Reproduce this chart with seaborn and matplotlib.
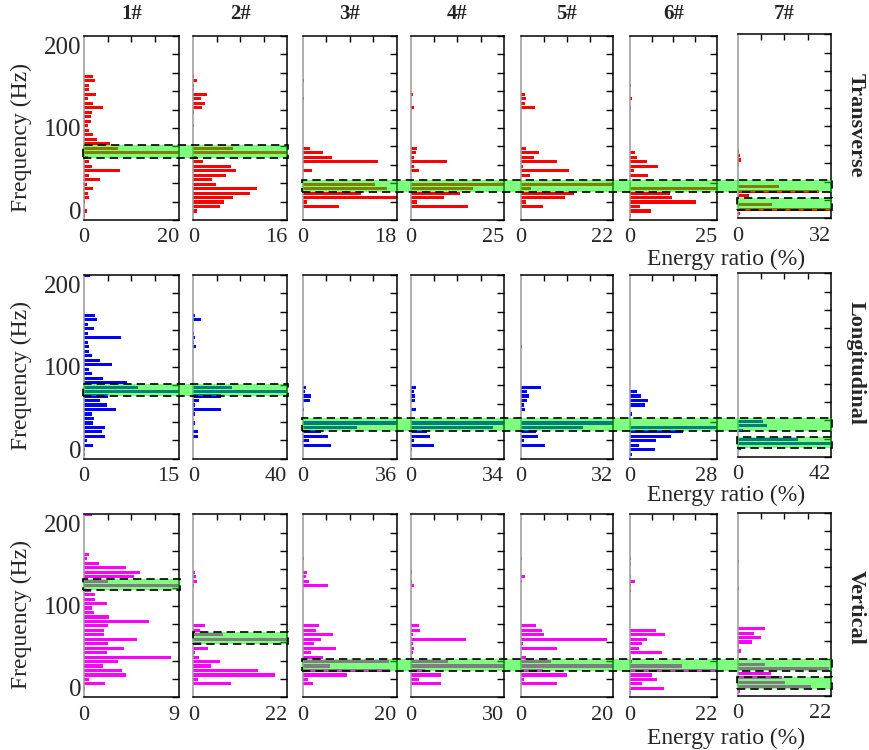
import numpy as np
import pandas as pd
import matplotlib
matplotlib.use("Agg")
import matplotlib.pyplot as plt
import seaborn as sns
from matplotlib.patches import Rectangle
from matplotlib.transforms import blended_transform_factory

# ---------------- data ----------------
# frequency bins (Hz)
FREQ = [4.88, 9.76, 14.63, 19.51, 24.39, 29.27, 34.15, 39.02, 43.90, 48.78,
        53.66, 58.54, 63.41, 68.29, 73.17, 78.05, 82.93, 87.80, 92.68, 97.56,
        102.44, 107.32, 112.20, 117.07, 121.95, 126.83, 131.71, 136.59, 141.46, 146.34,
        151.22, 156.10, 160.98, 165.85, 170.73, 175.61, 180.49, 185.37, 190.24, 195.12,
        200.00]

columns = ["1#", "2#", "3#", "4#", "5#", "6#", "7#"]
directions = ["Transverse", "Longitudinal", "Vertical"]

# Transverse energy ratio (%)
trans_1 = [0.2,0.7,0.1,0.2,1.1,0.8,2.0,0.6,3.3,1.0, 7.5,1.6,1.1,0.8,20,7.1,5.4,2.8,1.8,1.1,
           0.9,1.5,1.4,1.6,4.1,1.8,0.9,2.5,1.1,1.0, 2.3,1.8,0,0,0,0,0,0,0,0, 0.3]
trans_2 = [0,0.7,4.5,5.3,6.8,9.7,10.8,3.9,3.2,5.6, 7.2,6.5,1.7,0.6,16,6.8,0,0,0,0,
           0.1,0,0,0.1,1.4,2.0,1.3,2.3,0.1,0.2, 0.6,0.2,0,0,0,0,0,0,0,0, 0]
trans_3 = [0,0.1,7.0,0.9,18,11.1,16.2,13.8,0,0, 1.7,0.1,14.5,5.7,3.8,1.4,0,0,0,0,
           0,0,0,0,0,0,0.2,0,0,0, 0.2,0,0,0,0,0,0,0,0,0, 0]
trans_4 = [0.1,0,15.4,1.8,8.8,13.2,16.6,25,0,0.2, 2.1,1.0,9.6,0.9,1.3,1.6,0,0,0,0,
           0,0,0,0,1.0,0,0.1,0.5,0,0, 0.2,0,0,0,0,0,0,0,0,0, 0]
trans_5 = [0.1,0,5.4,1.2,10.6,12.8,2.4,22,0,2.2, 11.4,0.6,8.6,3.2,4.5,1.2,0,0,0,0,
           0,0,0,0,3.4,1.0,1.4,1.0,0,0, 0.2,0,0,0,0,0,0,0,0,0, 0]
trans_6 = [0.2,6.1,2.9,19,12,11.5,25,0.2,0,5.3, 1.1,8.0,4.8,2.0,1.3,0,0,0,0,0,
           0,0,0,0,0.2,0,0.5,0,0,0.2, 0,0,0,0,0,0,0,0,0,0, 0]
trans_7 = [0.8,32,11.9,0,3.9,27.8,14.2,0,0,0, 0,0.3,1.2,0.9,0.6,0,0,0,0,0,
           0,0,0,0,0,0,0,0,0,0, 0,0,0,0,0,0,0,0,0,0, 0]

# Longitudinal energy ratio (%)
long_1 = [0.2,0.1,1.4,0.5,3.3,2.8,3.3,1.4,1.6,1.2, 5.1,3.6,2.6,3.8,15,8.5,6.8,3.0,1.2,0.8,
          4.5,2.5,1.3,0.8,0.8,0.7,5.9,0.6,1.6,0.6, 2.1,1.7,0,0,0,0,0,0,0,0, 0.95]
long_2 = [0,0,0,0,2.1,2.1,0,0.7,0,0.7, 11.6,0.6,2.6,11.6,40,16.6,0,0,0,0,
          0,0,0,0,1.0,0.3,0.85,0.3,0,0, 3.4,0.6,0,0,0,0,0,0,0,0, 0]
long_3 = [0,0,10.9,2.5,9.7,6.9,20.7,36,0,0, 0.4,0,2.9,3.1,0.9,1.4,0,0,0,0,
          0,0,0,0,0,0,0,0,0,0, 0,0,0,0,0,0,0,0,0,0, 0]
long_4 = [0,0.4,8.4,1.2,7.1,5.9,30,34,0,0, 1.8,0,1.4,1.4,1.2,2.0,0,0,0,0,
          0,0,0,0,0.2,0,0,0,0,0, 0,0,0,0,0,0,0,0,0,0, 0]
long_5 = [0,0.1,8.6,1.1,5.9,5.4,21.5,32,0,0, 1.7,1.1,2.3,3.1,2.3,7.1,0,0,0,0,
          0,0,0,0,0.6,0,0,0,0,0.1, 0,0.2,0,0,0,0,0,0,0,0, 0]
long_6 = [0.5,8.1,2.9,8.3,13.2,17.2,28,0.4,0,0.75, 0,4.8,5.7,3.5,2.4,0,0,0,0,0,
          0,0,0,0,0,0,0,0,0,0, 0,0,0,0,0,0,0,0,0,0, 0]
long_7 = [0,1.4,42,27,0,2.3,13.2,11.2,0,0, 0,0,0,0.2,0,0.3,0,0,0,0,
          0,0,0,0,0,0,0,0,0,0, 0,0,0,0,0,0,0,0,0,0, 0]

# Vertical energy ratio (%)
vert_1 = [0,0.05,2.0,0.47,4.0,3.6,1.8,3.26,8.2,2.16, 3.8,2.3,5.05,1.9,1.9,2.3,6.2,2.36,0.98,0.8,
          2.2,1.0,1.04,0.66,9,2.3,4.7,5.3,3.95,1.42, 0.32,0.44,0,0,0,0,0,0,0,0, 0.73]
vert_2 = [0,0,8.75,1.2,19.1,15.2,4.1,6.2,1.25,0.5, 3.4,1.9,22,7.0,1.5,2.7,0,0,0,0,
          0,0,0,0,0.2,0.9,0.6,0.5,0,0, 0,0,0,0,0,0,0,0,0,0, 0]
vert_3 = [0,0,2.1,1.05,9.5,18.5,5.8,18.4,4.4,1.75, 7.1,2.5,3.9,6.5,2.8,3.4,0,0,0,0,
          0,0,0,0,5.4,1.3,0.8,0.85,0,0, 0.35,0,0,0,0,0,0,0,0,0, 0]
vert_4 = [0,0.2,9.6,2.6,9.75,4.6,30,12,0.4,0.9, 1.2,0.9,17.7,0.6,3.1,2.7,0,0,0,0,
          0,0,0,0,1.1,0.3,0,0.5,0,0, 0.2,0,0,0,0,0,0,0,0,0, 0]
vert_5 = [0,0.1,7.9,0.7,10.1,4.8,20,6.5,1.2,0.15, 7.8,0.5,18.6,5.05,4.7,3.4,0,0,0,0,
          0,0,0,0,0.2,0.3,1.0,0,0,0, 0.3,0,0,0,0,0,0,0,0,0, 0]
vert_6 = [0.2,8.7,3.0,6.8,5.6,22,13.2,0.5,0.2,8.0, 2.4,3.0,4.2,8.9,6.6,0,0,0,0,0,
          0,0,0,0.2,0.25,1.26,0.25,0,0,0.35, 0.2,0,0,0,0,0,0,0,0,0, 0]
vert_7 = [0.6,17.4,11.2,10.4,7.9,21.6,6.5,0,0,0.8, 0.4,3.3,5.5,3.8,6.5,0,0,0,0,0,
          0,0,0,0.3,0,0,0,0,0,0.2, 0,0,0,0,0,0,0,0,0,0, 0]

# x-axis maxima (tick labels)
xmax_trans = [20, 16, 18, 25, 22, 25, 32]
xmax_long = [15, 40, 36, 34, 32, 28, 42]
xmax_vert = [9, 22, 20, 30, 20, 22, 22]

# highlighted frequency bands: (first column, last column, low Hz, high Hz)
bands_trans = [(0, 1, 67.3, 81.1), (2, 6, 30.9, 43.6), (6, 6, 10.9, 24.4)]
bands_long = [(0, 1, 68.6, 81.7), (2, 6, 30.7, 44.2), (6, 6, 11.4, 24.2)]
bands_vert = [(0, 0, 117.2, 129.6), (1, 1, 58.2, 71.3), (2, 6, 28.4, 41.9), (6, 6, 8.7, 22.6)]

rows = [
    ([trans_1, trans_2, trans_3, trans_4, trans_5, trans_6, trans_7], xmax_trans, bands_trans, "#ff0000"),
    ([long_1, long_2, long_3, long_4, long_5, long_6, long_7], xmax_long, bands_long, "#0000ff"),
    ([vert_1, vert_2, vert_3, vert_4, vert_5, vert_6, vert_7], xmax_vert, bands_vert, "#ff00ff"),
]

# ---------------- layout ----------------
sns.set_theme(style="white")
plt.rcParams["font.family"] = ["Liberation Serif", "DejaVu Serif"]

W, H = 870, 750
fig = plt.figure(figsize=(W / 100, H / 100), dpi=100)
fig.patch.set_facecolor("white")

col_left = [84, 193.3, 302.7, 410.7, 520.5, 630, 737.7]
col_width = [95, 94, 94, 93.3, 92.8, 87, 93.3]
col_shift = [0, 0, 0, 0, 0, 0, 1.7]
row_top = [36, 275, 514.3]
row_bottom = [220, 458.8, 697.3]
energy_y = [259, 495, 738]
rowlab_y = [125, 363, 607]

for r, (series, xmaxs, bands, color) in enumerate(rows):
    axes = []
    for c in range(7):
        top = row_top[r] - col_shift[c]
        bot = row_bottom[r] - col_shift[c]
        ax = fig.add_axes([col_left[c] / W, 1 - bot / H, col_width[c] / W, (bot - top) / H])
        df = pd.DataFrame({"freq": FREQ, "ratio": series[c]})
        sns.barplot(data=df, x="ratio", y="freq", orient="h", native_scale=True,
                    color=color, saturation=1, width=0.7, errorbar=None,
                    linewidth=0, ax=ax)
        xm = xmaxs[c]
        ax.set_xlim(0, xm)
        ax.set_ylim(0, 200)
        ax.set_xlabel("")
        ax.set_ylabel("")
        ax.set_yticks(np.arange(0, 201, 20))
        ax.tick_params(axis="y", which="major", left=False, right=True, direction="in",
                       length=5, width=1, color="black", labelleft=False, labelright=False)
        ax.set_xticks([0, xm])
        ax.set_xticklabels(["0", str(xm)], fontsize=16)
        ax.get_xticklabels()[1].set_ha("right")
        ax.get_xticklabels()[0].set_ha("center")
        ax.tick_params(axis="x", which="major", bottom=False, top=False, pad=0, labelsize=16)
        ax.set_xticks([xm * 0.25, xm * 0.5, xm * 0.75], minor=True)
        ax.tick_params(axis="x", which="minor", top=True, bottom=False, direction="in",
                       length=4, width=1, color="black")
        for side in ["top", "right", "bottom"]:
            ax.spines[side].set_color("black")
            ax.spines[side].set_linewidth(1.1)
            ax.spines[side].set_visible(True)
        ax.spines["left"].set_color("#9a9a9a")
        ax.spines["left"].set_linewidth(1.1)
        ax.spines["left"].set_visible(True)
        ax.grid(False)
        if c == 0:
            tr = blended_transform_factory(ax.transAxes, ax.transData)
            ax.text(-0.03, 1, "0", transform=tr, ha="right", va="baseline", fontsize=18)
            ax.text(-0.03, 100, "100", transform=tr, ha="right", va="center_baseline", fontsize=18)
            ax.text(-0.03, 199, "200", transform=tr, ha="right", va="top", fontsize=18)
        axes.append(ax)

    # bands across columns
    btr = blended_transform_factory(fig.transFigure, axes[0].transData)
    for c0, c1, lo, hi in bands:
        x0 = col_left[c0] - 0.5
        x1 = col_left[c1] + col_width[c1] + 1.0
        rect = Rectangle((x0 / W, lo), (x1 - x0) / W, hi - lo, transform=btr,
                         facecolor=(0, 1, 0, 0.5), edgecolor="black",
                         linestyle=(0, (5, 3)), linewidth=1.2, zorder=10)
        fig.add_artist(rect)

    yc = (row_top[r] + row_bottom[r]) / 2 + 9
    fig.text(21 / W, 1 - yc / H, "Frequency (Hz)", rotation=90, ha="center", va="center",
             fontsize=17)
    fig.text(726 / W, 1 - energy_y[r] / H, "Energy ratio (%)", ha="center", va="center",
             fontsize=17)
    fig.text(856 / W, 1 - rowlab_y[r] / H, directions[r], rotation=-90, ha="center",
             va="center", fontsize=16, fontweight="bold")

for c in range(7):
    cx = col_left[c] + col_width[c] / 2
    fig.text(cx / W, 1 - 14 / H, columns[c], ha="center", va="center", fontsize=15,
             fontweight="bold")

fig.savefig("out.png", dpi=100, facecolor="white")
